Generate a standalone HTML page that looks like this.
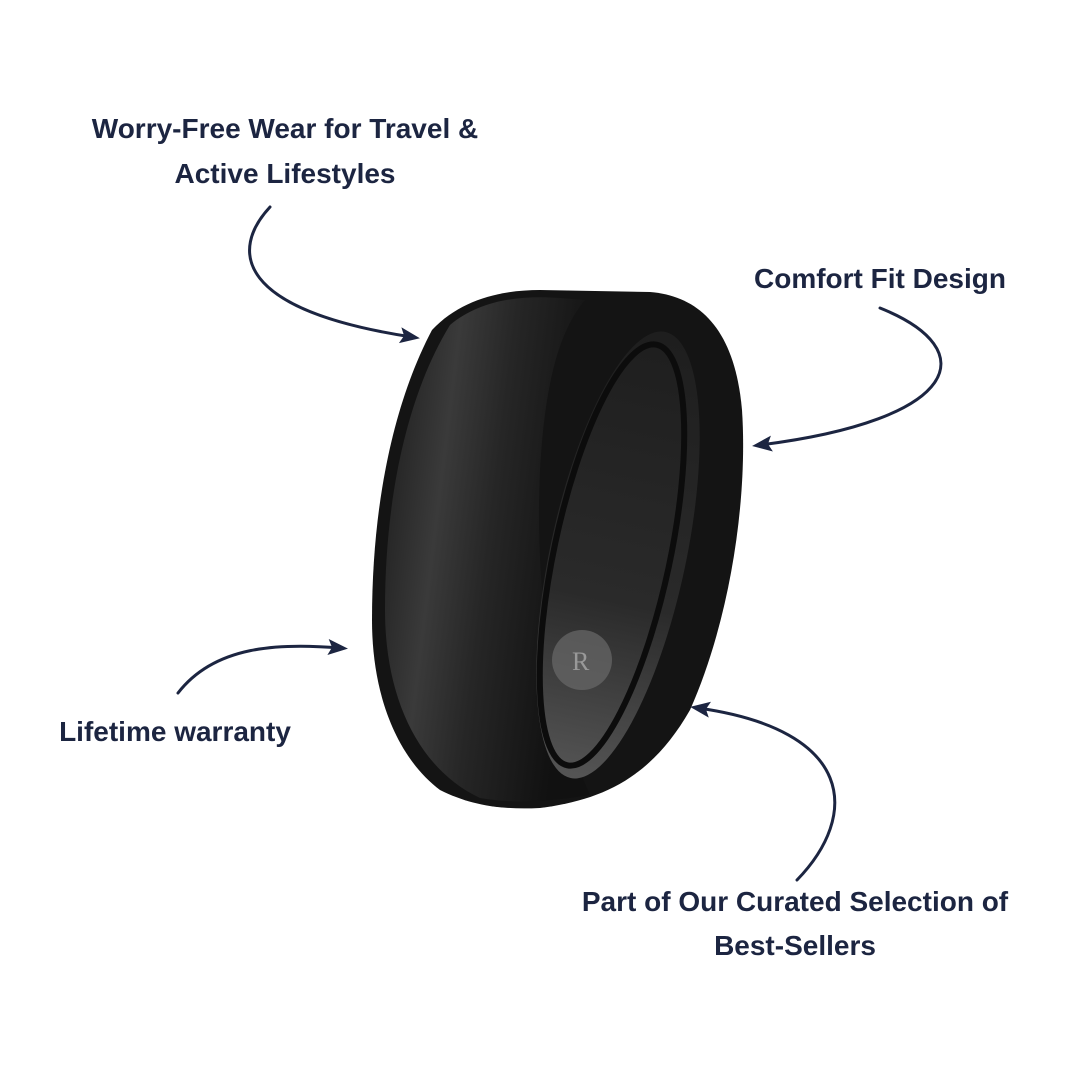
<!DOCTYPE html>
<html><head><meta charset="utf-8"><style>
html,body{margin:0;padding:0;background:#fff;}
body{width:1080px;height:1080px;overflow:hidden;position:relative;font-family:"Liberation Sans",sans-serif;}
svg{position:absolute;left:0;top:0;}
.t{font-family:"Liberation Sans",sans-serif;font-weight:bold;font-size:28px;fill:#1c2541;}
</style></head><body>
<svg width="1080" height="1080" viewBox="0 0 1080 1080">
<defs>
<linearGradient id="band" x1="0" y1="0" x2="1" y2="0.3">
<stop offset="0" stop-color="#1a1a1a"/><stop offset="0.35" stop-color="#3a3a3a"/><stop offset="0.6" stop-color="#262626"/><stop offset="1" stop-color="#111"/>
</linearGradient>
<linearGradient id="inner" x1="0" y1="0" x2="0" y2="1">
<stop offset="0" stop-color="#1e1e1e"/><stop offset="0.6" stop-color="#2a2a2a"/><stop offset="1" stop-color="#555"/>
</linearGradient>
<marker id="ah" markerWidth="20" markerHeight="20" refX="12" refY="10" orient="auto" markerUnits="userSpaceOnUse" viewBox="0 0 20 20">
<path d="M0,2 L20,10 L0,18 L4,10 Z" fill="#1c2541"/>
</marker>
</defs>
<path d="M432,330 C460,300 500,290 540,290 L650,292 C700,296 735,330 742,410 C748,500 730,620 690,710 C650,780 600,800 540,808 C500,810 470,805 440,790 C400,760 372,700 372,620 C372,500 395,400 432,330 Z" fill="#141414"/>
<path d="M450,325 C480,300 520,295 560,298 L585,300 C560,330 545,380 540,470 C535,580 548,700 590,795 C560,800 520,805 480,798 C420,770 385,700 385,610 C385,490 410,390 450,325 Z" fill="url(#band)"/>
<ellipse cx="618" cy="555" rx="68" ry="228" transform="rotate(12 618 555)" fill="url(#inner)"/>
<ellipse cx="612" cy="555" rx="58" ry="215" transform="rotate(12 612 555)" fill="none" stroke="#0c0c0c" stroke-width="6"/>
<circle cx="582" cy="660" r="30" fill="#6a6a6a" opacity="0.7"/>
<text x="572" y="670" font-size="26" fill="#999" font-family="Liberation Serif">R</text>
<text class="t" x="285" y="138" text-anchor="middle">Worry-Free Wear for Travel &amp;</text>
<text class="t" x="285" y="183" text-anchor="middle">Active Lifestyles</text>
<text class="t" x="880" y="288" text-anchor="middle">Comfort Fit Design</text>
<text class="t" x="175" y="741" text-anchor="middle">Lifetime warranty</text>
<text class="t" x="795" y="911" text-anchor="middle">Part of Our Curated Selection of</text>
<text class="t" x="795" y="955" text-anchor="middle">Best-Sellers</text>
<g fill="none" stroke="#1c2541" stroke-width="3" stroke-linecap="round">
<path d="M270,207 C230,250 235,310 412,337" marker-end="url(#ah)"/>
<path d="M880,308 C985,350 960,420 760,445" marker-end="url(#ah)"/>
<path d="M178,693 C215,645 280,643 340,648" marker-end="url(#ah)"/>
<path d="M797,880 C860,815 855,730 698,708" marker-end="url(#ah)"/>
</g>
</svg>
</body></html>
